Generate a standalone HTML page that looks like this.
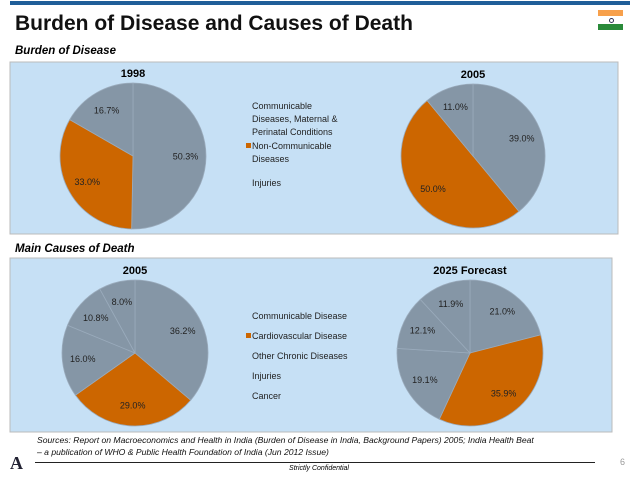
<!DOCTYPE html>
<html><head><meta charset="utf-8"><style>
body{margin:0;width:638px;height:479px;background:#fff;font-family:"Liberation Sans",sans-serif;position:relative;overflow:hidden}
div,span{position:absolute}
</style></head><body>
<div style="left:10px;top:1px;width:620px;height:4px;background:#1f5e99"></div>
<div style="left:15px;top:12px;font-size:21px;font-weight:bold;color:#111">Burden of Disease and Causes of Death</div>
<div style="left:598px;top:10px;width:25px;height:20px">
 <div style="left:0;top:0;width:25px;height:6px;background:#f7a04b"></div>
 <div style="left:11px;top:8px;width:3px;height:3px;border-radius:50%;border:1px solid #335"></div>
 <div style="left:0;top:14px;width:25px;height:6px;background:#2a8a3a"></div>
</div>
<div style="left:15px;top:45px;font-size:11.5px;font-weight:bold;font-style:italic">Burden of Disease</div>
<div style="left:15px;top:243px;font-size:11.5px;font-weight:bold;font-style:italic">Main Causes of Death</div>
<svg id="chart" width="638" height="479" style="position:absolute;left:0;top:0">
 <rect x="10" y="62" width="608" height="172" fill="#c6e0f5" stroke="#bbb"/>
 <rect x="10" y="258" width="602" height="174" fill="#c6e0f5" stroke="#bbb"/>
</svg>
<div style="left:252px;top:100px;font-size:9px;color:#222;line-height:13px">
 <div style="left:0;top:0;width:100px">Communicable<br>Diseases, Maternal &amp;<br>Perinatal Conditions</div>
 <div style="left:-6px;top:40px;width:120px"><span style="position:static;display:inline-block;width:5px;height:5px;background:#cc6600;margin-right:1px;vertical-align:1px"></span>Non-Communicable<br><span style="position:static;padding-left:6px">Diseases</span></div>
 <div style="left:0;top:77px">Injuries</div>
</div>
<div style="left:252px;top:310px;font-size:9px;color:#222;line-height:13px">
 <div style="left:0;top:0;white-space:nowrap">Communicable Disease</div>
 <div style="left:-6px;top:20px;white-space:nowrap"><span style="position:static;display:inline-block;width:5px;height:5px;background:#cc6600;margin-right:1px;vertical-align:1px"></span>Cardiovascular Disease</div>
 <div style="left:0;top:40px;white-space:nowrap">Other Chronic Diseases</div>
 <div style="left:0;top:60px">Injuries</div>
 <div style="left:0;top:80px">Cancer</div>
</div>
<div style="left:37px;top:434px;font-size:8.6px;font-style:italic;line-height:12px;color:#111;width:550px">Sources: Report on Macroeconomics and Health in India (Burden of Disease in India, Background Papers) 2005; India Health Beat<br>– a publication of WHO &amp; Public Health Foundation of India (Jun 2012 Issue)</div>
<div style="left:35px;top:462px;width:560px;height:1px;background:#222"></div>
<div style="left:0;top:465px;width:638px;text-align:center;font-size:7px;font-style:italic">Strictly Confidential</div>
<div style="left:620px;top:457px;font-size:9px;color:#999">6</div>
<div style="left:10px;top:453px;font-size:18px;font-weight:bold;color:#223;font-family:'Liberation Serif',serif">A</div>
<script>
const titles=["1998","2005","2005","2025 Forecast"];
const pie1998=[50.3,33.0,16.7];
const pie2005=[39.0,50.0,11.0];
const death2005=[36.2,29.0,16.0,10.8,8.0];
const death2025=[21.0,35.9,19.1,12.1,11.9];
const orangeIndex=1;
const svg=document.getElementById('chart');
const NS='http://www.w3.org/2000/svg';
function pt(cx,cy,r,deg){const a=deg*Math.PI/180;return [cx+r*Math.sin(a),cy-r*Math.cos(a)];}
function drawPie(vals,cx,cy,r,title,name){
 const tot=vals.reduce((a,b)=>a+b,0);let start=0;
 vals.forEach((v,i)=>{
  const sweep=v/tot*360,end=start+sweep;
  const p0=pt(cx,cy,r,start),p1=pt(cx,cy,r,end);
  const path=document.createElementNS(NS,'path');
  path.setAttribute('d',`M${cx},${cy}L${p0[0]},${p0[1]}A${r},${r} 0 ${sweep>180?1:0} 1 ${p1[0]},${p1[1]}Z`);
  path.setAttribute('fill',i===orangeIndex?'#cc6600':'#8596a6');
  path.setAttribute('stroke','#9aabbc');path.setAttribute('stroke-width','0.8');
  
  
  svg.appendChild(path);
  const lp=pt(cx,cy,r*0.72,start+sweep/2);
  const t=document.createElementNS(NS,'text');
  t.setAttribute('x',lp[0]);t.setAttribute('y',lp[1]+3);t.setAttribute('text-anchor','middle');
  t.setAttribute('font-size','9');t.setAttribute('fill','#222');
  t.setAttribute('font-family','Liberation Sans, sans-serif');
  t.textContent=v.toFixed(1)+'%';
  
  
  svg.appendChild(t);
  start=end;
 });
 const tt=document.createElementNS(NS,'text');
 tt.setAttribute('x',cx);tt.setAttribute('y',cy-r-6);tt.setAttribute('text-anchor','middle');
 tt.setAttribute('font-size','11');tt.setAttribute('font-weight','bold');
 tt.setAttribute('font-family','Liberation Sans, sans-serif');
 tt.textContent=title;
 
 
 svg.appendChild(tt);
}
drawPie(pie1998,133,156,73,titles[0],'pie-1998');
drawPie(pie2005,473,156,72,titles[1],'pie-2005');
drawPie(death2005,135,353,73,titles[2],'death-2005');
drawPie(death2025,470,353,73,titles[3],'death-2025');
</script>
</body></html>
